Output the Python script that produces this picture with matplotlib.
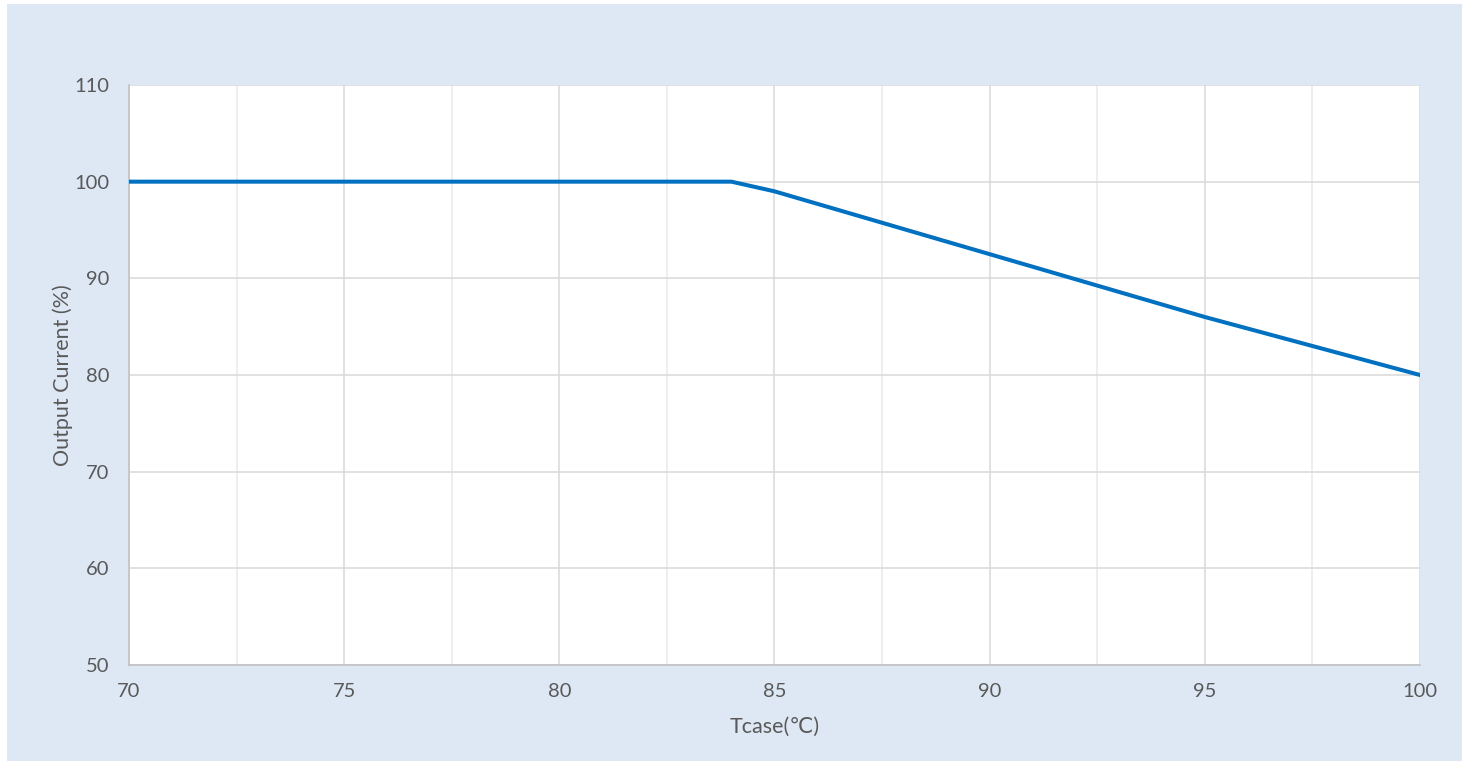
import matplotlib.pyplot as plt
from matplotlib.patches import Rectangle
from matplotlib.ticker import MultipleLocator

# derating curve: output current vs case temperature
tcase = [70, 84, 85, 90, 95, 100]
current_pct = [100, 100, 99, 92.5, 86, 80]

BLUE = "#0070C0"
GRID = "#d9d9d9"
TEXT = "#595959"
plt.rcParams["font.family"] = ["Lato", "DejaVu Sans"]

fig = plt.figure(figsize=(14.68, 7.61), dpi=100)
fig.patch.set_facecolor("white")
# light blue chart area behind the axes
fig.patches.append(Rectangle((7 / 1468, 0), 1455 / 1468, 757 / 761,
                             transform=fig.transFigure, facecolor="#dde8f4",
                             edgecolor="none", zorder=-10))

ax = fig.add_axes([129 / 1468, 1 - 665 / 761, 1291 / 1468, 580 / 761])
ax.set_facecolor("white")
ax.plot(tcase, current_pct, color=BLUE, lw=2.9, solid_joinstyle="round", zorder=3)

ax.set_xlim(70, 100)
ax.set_ylim(50, 110)
ax.xaxis.set_major_locator(MultipleLocator(5))
ax.xaxis.set_minor_locator(MultipleLocator(2.5))
ax.yaxis.set_major_locator(MultipleLocator(10))
ax.grid(which="major", color=GRID, lw=1.1)
ax.grid(which="minor", axis="x", color="#e9e9e9", lw=1.1)
ax.set_axisbelow(True)

for side in ("top", "right"):
    ax.spines[side].set_visible(False)
for side in ("left", "bottom"):
    ax.spines[side].set_color("#bfbfbf")
    ax.spines[side].set_linewidth(1.1)

ax.tick_params(which="both", length=0, labelsize=14.5, colors=TEXT)
ax.tick_params(axis="y", pad=14)
ax.tick_params(axis="x", pad=13)

ax.set_xlabel("Tcase(℃)", fontsize=15.5, color=TEXT, labelpad=12)
ax.set_ylabel("Output Current (%)", fontsize=15.5, color=TEXT, labelpad=1)

fig.savefig("out.png", dpi=100)
